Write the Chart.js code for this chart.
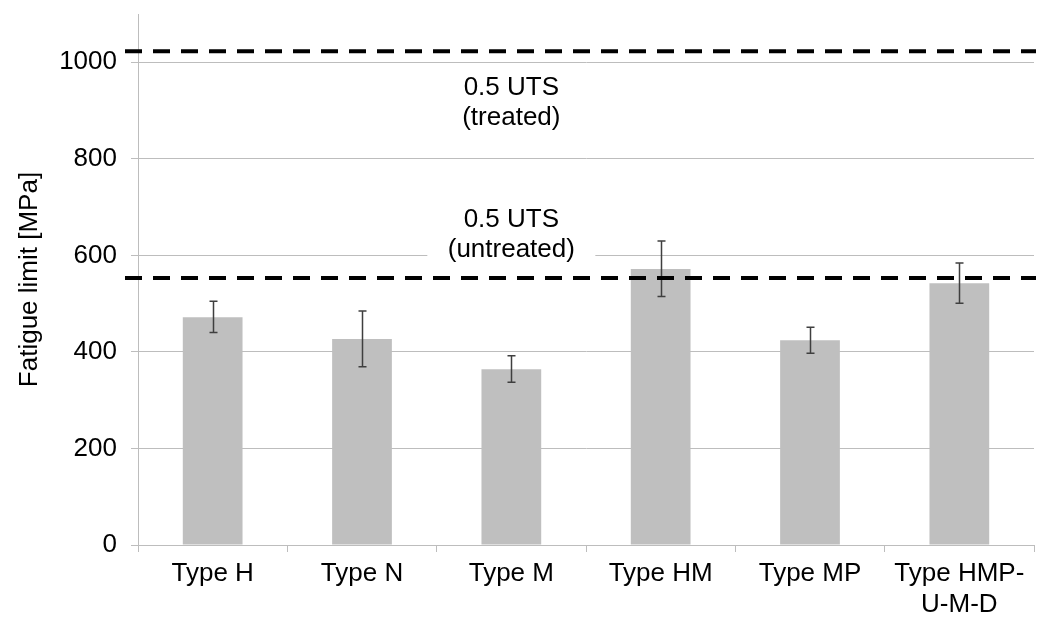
<!DOCTYPE html>
<html>
<head>
<meta charset="utf-8">
<script src="https://cdn.jsdelivr.net/npm/chart.js@4/dist/chart.umd.min.js"></script>
<style>
  html, body { margin: 0; padding: 0; background: #fff; }
  #wrap { width: 1047px; height: 617px; }
</style>
</head>
<body>
<div id="wrap"><canvas id="c" width="1047" height="617"></canvas></div>
<script>
const categories = ['Type H', 'Type N', 'Type M', 'Type HM', 'Type MP', ['Type HMP-', 'U-M-D']];
const fatigueLimit = [472, 427, 364, 572, 424, 542];
const errorUpper = [505, 485, 392, 630, 451, 584];
const errorLower = [440, 369, 337, 515, 397, 501];
const thresholdValues = [1023, 553];
const thresholdLabels = [['0.5 UTS', '(treated)'], ['0.5 UTS', '(untreated)']];
const yTicks = [0, 200, 400, 600, 800, 1000];
const yMax = 1100;

const FONT = 'Liberation Sans, Arial, sans-serif';
const GRID = '#bdbdbd';

const overlayPlugin = {
  id: 'overlay',
  beforeDatasetsDraw(chart) {
    const ctx = chart.ctx;
    const x = chart.scales.x.getPixelForValue(2);
    const y = chart.scales.y;
    const blocks = [917, 643];
    ctx.save();
    ctx.font = '26px ' + FONT;
    ctx.textAlign = 'center';
    ctx.textBaseline = 'middle';
    blocks.forEach((v, i) => {
      const cy = y.getPixelForValue(v);
      ctx.fillStyle = '#fff';
      ctx.fillRect(x - 84, cy - 36, 168, 72);
      ctx.fillStyle = '#000';
      thresholdLabels[i].forEach((t, j) => {
        ctx.fillText(t, x, cy + (j - 0.5) * 30);
      });
    });
    ctx.restore();
  },
  afterDatasetsDraw(chart) {
    const ctx = chart.ctx;
    const xs = chart.scales.x;
    const ys = chart.scales.y;
    const area = chart.chartArea;
    ctx.save();
    ctx.strokeStyle = '#3f3f3f';
    ctx.lineWidth = 1.5;
    for (let i = 0; i < fatigueLimit.length; i++) {
      const px = Math.round(xs.getPixelForValue(i)) + 0.5;
      const yt = ys.getPixelForValue(errorUpper[i]);
      const yb = ys.getPixelForValue(errorLower[i]);
      ctx.beginPath();
      ctx.moveTo(px, yt); ctx.lineTo(px, yb);
      ctx.moveTo(px - 4, yt); ctx.lineTo(px + 4, yt);
      ctx.moveTo(px - 4, yb); ctx.lineTo(px + 4, yb);
      ctx.stroke();
    }
    ctx.strokeStyle = '#000';
    ctx.lineWidth = 4;
    ctx.setLineDash([17, 11]);
    thresholdValues.forEach(v => {
      const py = ys.getPixelForValue(v);
      ctx.beginPath();
      ctx.moveTo(area.left - 13, py);
      ctx.lineTo(area.right + 2, py);
      ctx.stroke();
    });
    ctx.restore();
  }
};

new Chart(document.getElementById('c'), {
  type: 'bar',
  data: {
    labels: categories,
    datasets: [{
      data: fatigueLimit,
      backgroundColor: '#bfbfbf',
      borderWidth: 0,
      barPercentage: 0.4,
      categoryPercentage: 1.0
    }]
  },
  options: {
    responsive: false,
    animation: false,
    events: [],
    layout: { padding: { top: 14, right: 13, left: 0, bottom: 0 } },
    plugins: { legend: { display: false }, tooltip: { enabled: false } },
    scales: {
      x: {
        offset: true,
        grid: { offset: true, drawOnChartArea: false, color: GRID, tickLength: 7, lineWidth: 1 },
        border: { display: false },
        ticks: { color: '#000', font: { family: FONT, size: 26 }, padding: 6, maxRotation: 0, autoSkip: false },
        afterFit(s) { s.height = 72; s.paddingLeft = 0; s.paddingRight = 0; }
      },
      y: {
        min: 0,
        max: yMax,
        afterBuildTicks(s) { s.ticks = yTicks.map(v => ({ value: v })); },
        grid: { color: GRID, tickLength: 7, lineWidth: 1 },
        border: { display: true, color: GRID, width: 1 },
        ticks: { color: '#000', font: { family: FONT, size: 26 }, padding: 14, callback: v => String(v) },
        title: { display: true, text: 'Fatigue limit [MPa]', color: '#000', font: { family: FONT, size: 26 }, padding: { top: 14, bottom: 0 } },
        afterFit(s) { s.width = 138; s.paddingTop = 0; s.paddingBottom = 0; }
      }
    }
  },
  plugins: [overlayPlugin]
});
</script>
</body>
</html>
